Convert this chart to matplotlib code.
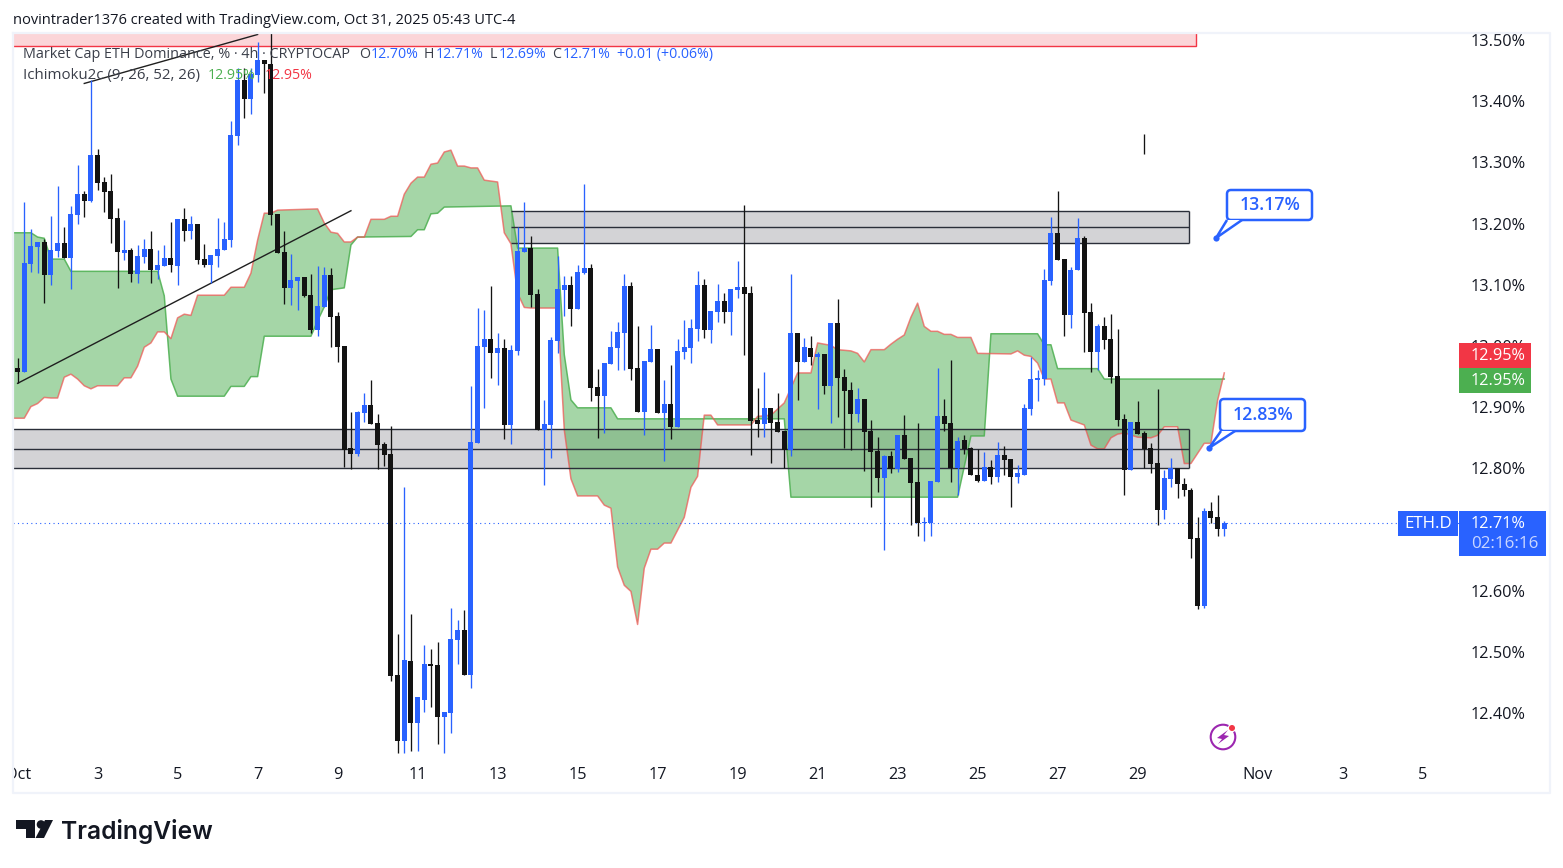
"""
ETH.D 4h candles with Ichimoku cloud, TradingView snapshot look.
"""
import matplotlib

matplotlib.use("Agg")
import matplotlib.dates as mdates
import matplotlib.pyplot as plt
from matplotlib.patches import Circle, FancyBboxPatch, Polygon, Rectangle
import numpy as np
import pandas as pd

plt.rcParams["font.family"] = ["Open Sans", "DejaVu Sans"]

W, H = 1563, 868
BLUE = "#2962ff"
BLACK = "#131313"
INK = "#131722"

# 4h bars from Oct 1 00:00, u = close above open, d = close below open
directions = (
    "duuuduuduu" "dudddduduu" "duudududdu" "uuuuduuddd" "duudduuddd"
    "duudddddud" "uudduuuduu" "ududuuuddu" "uuuduudduu" "uudduududu"
    "uuuduuduud" "ddudddudud" "ududdduddd" "ududdduuud" "dudddududd"
    "uuuuuudduu" "dduddddudd" "dduuddddud" "du"
)
highs = [
    12.980, 13.235, 13.191, 13.170, 13.175, 13.212, 13.261, 13.194, 13.229, 13.296,
    13.253, 13.435, 13.322, 13.276, 13.281, 13.225, 13.206, 13.160, 13.165, 13.175,
    13.188, 13.157, 13.165, 13.202, 13.207, 13.225, 13.212, 13.199, 13.167, 13.149,
    13.209, 13.202, 13.367, 13.454, 13.454, 13.454, 13.496, 13.467, 13.511, 13.215,
    13.188, 13.150, 13.113, 13.113, 13.117, 13.130, 13.129, 13.127, 13.055, 13.000,
    12.892, 12.893, 12.923, 12.945, 12.889, 12.843, 12.869, 12.529, 12.769, 12.562,
    12.426, 12.511, 12.505, 12.516, 12.402, 12.572, 12.552, 12.569, 12.935, 13.062,
    13.059, 13.098, 13.021, 13.011, 13.001, 13.195, 13.236, 13.180, 13.093, 12.912,
    13.014, 13.147, 13.114, 13.114, 13.132, 13.265, 13.134, 12.962, 12.972, 13.024,
    13.039, 13.117, 13.104, 13.032, 12.975, 13.034, 12.995, 12.945, 12.969, 13.011,
    13.043, 13.044, 13.122, 13.109, 13.057, 13.101, 13.086, 13.093, 13.139, 13.230,
    13.098, 12.931, 12.957, 12.899, 12.923, 12.861, 13.117, 13.021, 13.013, 13.016,
    12.990, 12.987, 13.037, 13.076, 12.962, 12.941, 12.931, 12.913, 12.879, 12.851,
    12.822, 12.828, 12.854, 12.887, 12.817, 12.874, 12.720, 12.779, 12.964, 12.913,
    12.977, 12.851, 12.854, 12.835, 12.831, 12.826, 12.814, 12.843, 12.836, 12.815,
    12.805, 12.905, 12.982, 12.961, 13.126, 13.211, 13.253, 13.142, 13.129, 13.209,
    13.180, 13.070, 13.036, 13.047, 13.052, 13.027, 12.889, 12.876, 12.910, 12.861,
    12.841, 12.930, 12.797, 12.817, 12.801, 12.785, 12.768, 12.720, 12.735, 12.745,
    12.756, 12.714,
]
body_tops = [
    12.964, 13.135, 13.163, 13.170, 13.170, 13.157, 13.168, 13.168, 13.216, 13.248,
    13.248, 13.312, 13.312, 13.268, 13.253, 13.209, 13.157, 13.157, 13.147, 13.158,
    13.158, 13.132, 13.144, 13.144, 13.207, 13.207, 13.199, 13.199, 13.142, 13.149,
    13.158, 13.175, 13.345, 13.435, 13.435, 13.444, 13.467, 13.467, 13.460, 13.215,
    13.154, 13.108, 13.113, 13.113, 13.083, 13.065, 13.116, 13.116, 13.049, 13.000,
    12.833, 12.892, 12.904, 12.904, 12.874, 12.840, 12.823, 12.462, 12.487, 12.485,
    12.426, 12.480, 12.480, 12.478, 12.402, 12.521, 12.536, 12.536, 12.843, 13.000,
    13.011, 13.011, 12.996, 12.996, 12.994, 13.155, 13.160, 13.160, 13.085, 12.873,
    13.010, 13.093, 13.100, 13.100, 13.121, 13.127, 13.127, 12.933, 12.972, 12.998,
    13.023, 13.098, 13.098, 12.964, 12.975, 12.995, 12.995, 12.905, 12.905, 12.992,
    12.998, 13.029, 13.100, 13.100, 13.057, 13.073, 13.073, 13.093, 13.096, 13.096,
    13.086, 12.879, 12.899, 12.899, 12.876, 12.861, 13.021, 13.021, 12.998, 12.996,
    12.987, 12.987, 13.037, 13.037, 12.949, 12.928, 12.913, 12.913, 12.861, 12.828,
    12.820, 12.820, 12.854, 12.854, 12.817, 12.778, 12.712, 12.779, 12.885, 12.885,
    12.874, 12.845, 12.846, 12.833, 12.790, 12.802, 12.802, 12.822, 12.822, 12.815,
    12.792, 12.899, 12.946, 12.948, 13.108, 13.185, 13.185, 13.142, 13.124, 13.176,
    13.176, 13.055, 13.032, 13.032, 13.011, 12.951, 12.880, 12.876, 12.876, 12.858,
    12.833, 12.809, 12.784, 12.801, 12.801, 12.775, 12.765, 12.686, 12.730, 12.730,
    12.720, 12.711,
]
body_bottoms = [
    12.958, 12.958, 13.134, 13.161, 13.116, 13.116, 13.155, 13.144, 13.144, 13.214,
    13.237, 13.237, 13.266, 13.252, 13.207, 13.153, 13.152, 13.117, 13.117, 13.145,
    13.124, 13.124, 13.131, 13.132, 13.131, 13.188, 13.188, 13.141, 13.132, 13.132,
    13.147, 13.157, 13.173, 13.343, 13.403, 13.403, 13.443, 13.460, 13.214, 13.152,
    13.095, 13.095, 13.106, 13.082, 13.026, 13.026, 13.063, 13.047, 12.998, 12.830,
    12.823, 12.823, 12.891, 12.873, 12.838, 12.822, 12.460, 12.354, 12.354, 12.384,
    12.384, 12.421, 12.477, 12.393, 12.393, 12.400, 12.520, 12.462, 12.462, 12.841,
    12.998, 12.988, 12.988, 12.871, 12.871, 12.992, 13.154, 13.083, 12.863, 12.863,
    12.871, 13.008, 13.092, 13.060, 13.060, 13.119, 12.931, 12.918, 12.918, 12.970,
    12.996, 13.021, 12.962, 12.892, 12.892, 12.974, 12.890, 12.890, 12.867, 12.867,
    12.990, 12.996, 13.028, 13.026, 13.026, 13.055, 13.055, 13.055, 13.092, 13.085,
    12.877, 12.873, 12.873, 12.874, 12.859, 12.830, 12.830, 12.974, 12.974, 12.982,
    12.982, 12.935, 12.935, 12.947, 12.926, 12.889, 12.889, 12.859, 12.827, 12.784,
    12.784, 12.799, 12.799, 12.815, 12.776, 12.711, 12.711, 12.711, 12.778, 12.872,
    12.800, 12.800, 12.832, 12.789, 12.779, 12.779, 12.786, 12.786, 12.814, 12.786,
    12.786, 12.790, 12.897, 12.945, 12.946, 13.106, 13.141, 13.051, 13.051, 13.124,
    13.054, 12.990, 12.990, 13.010, 12.949, 12.879, 12.797, 12.797, 12.856, 12.832,
    12.807, 12.732, 12.732, 12.783, 12.775, 12.765, 12.684, 12.575, 12.575, 12.719,
    12.701, 12.701,
]
lows = [
    12.940, 12.958, 13.121, 13.119, 13.070, 13.100, 13.145, 13.144, 13.093, 13.199,
    13.211, 13.236, 13.255, 13.219, 13.168, 13.095, 13.141, 13.104, 13.103, 13.135,
    13.103, 13.109, 13.131, 13.121, 13.100, 13.171, 13.175, 13.134, 13.129, 13.103,
    13.129, 13.157, 13.161, 13.328, 13.372, 13.379, 13.431, 13.413, 13.198, 13.152,
    13.069, 13.067, 13.059, 13.080, 13.021, 13.016, 13.063, 12.998, 12.974, 12.802,
    12.799, 12.820, 12.876, 12.873, 12.799, 12.804, 12.452, 12.335, 12.335, 12.338,
    12.338, 12.402, 12.410, 12.349, 12.335, 12.367, 12.480, 12.462, 12.441, 12.841,
    12.899, 12.947, 12.936, 12.848, 12.840, 12.985, 13.154, 13.063, 12.863, 12.773,
    12.817, 12.988, 13.049, 13.032, 13.060, 13.117, 12.910, 12.850, 12.858, 12.970,
    12.961, 12.961, 12.945, 12.892, 12.854, 12.974, 12.890, 12.812, 12.848, 12.867,
    12.979, 12.972, 13.008, 13.013, 13.005, 13.040, 13.037, 13.018, 13.078, 12.986,
    12.822, 12.851, 12.851, 12.809, 12.859, 12.800, 12.820, 12.912, 12.974, 12.969,
    12.897, 12.921, 12.874, 12.884, 12.833, 12.830, 12.876, 12.795, 12.737, 12.761,
    12.667, 12.792, 12.794, 12.815, 12.707, 12.689, 12.681, 12.689, 12.778, 12.861,
    12.778, 12.756, 12.823, 12.789, 12.777, 12.779, 12.774, 12.778, 12.790, 12.737,
    12.776, 12.790, 12.887, 12.910, 12.936, 13.100, 13.141, 13.016, 13.029, 13.124,
    12.990, 12.957, 12.961, 12.995, 12.939, 12.869, 12.756, 12.797, 12.856, 12.800,
    12.792, 12.707, 12.717, 12.770, 12.752, 12.755, 12.653, 12.570, 12.572, 12.711,
    12.689, 12.689,
]
# loose wick floating above the Oct 29 bars
stray_bar, stray_high, stray_low = 169, 13.346, 13.313

# Ichimoku spans, bar number and value at each bend of the line
green_bars = [
    -1, 2, 3, 4, 5, 7, 8, 21, 22, 23, 24, 31, 32, 34, 35, 36, 37, 44, 45, 46, 47, 49,
    50, 51, 59, 60, 61, 62, 63, 64, 74, 75, 81, 82, 83, 84, 89, 90, 115, 116, 141,
    143, 145, 146, 153, 154, 155, 156, 162, 163, 181,
]
green_vals = [
    13.185, 13.185, 13.178, 13.176, 13.142, 13.142, 13.122, 13.122, 13.082, 12.946,
    12.918, 12.918, 12.934, 12.934, 12.950, 12.950, 13.016, 13.016, 13.041, 13.064,
    13.092, 13.095, 13.165, 13.178, 13.179, 13.190, 13.190, 13.216, 13.217, 13.227,
    13.229, 13.160, 13.160, 12.986, 12.912, 12.899, 12.899, 12.881, 12.881, 12.753,
    12.753, 12.853, 12.853, 13.020, 13.020, 13.002, 13.002, 12.963, 12.963, 12.946,
    12.946,
]
red_bars = [
    -1, 1, 2, 3, 4, 5, 6, 7, 8, 9, 10, 11, 12, 15, 16, 17, 18, 19, 20, 21, 22, 23, 24,
    25, 26, 27, 31, 32, 34, 35, 36, 37, 38, 39, 45, 46, 47, 48, 49, 50, 51, 52, 53, 55,
    56, 57, 58, 59, 60, 61, 62, 63, 64, 65, 66, 67, 68, 69, 70, 72, 73, 74, 75, 76, 77,
    81, 82, 83, 84, 87, 88, 89, 90, 91, 92, 93, 94, 95, 96, 97, 98, 100, 101, 102, 103,
    104, 105, 110, 111, 113, 115, 117, 119, 120, 121, 122, 123, 125, 126, 127, 128,
    130, 131, 132, 133, 134, 135, 136, 137, 138, 139, 140, 141, 143, 144, 149, 150,
    151, 152, 153, 154, 155, 156, 157, 158, 160, 161, 162, 163, 164, 165, 166, 168,
    170, 171, 172, 174, 175, 176, 178, 179, 180, 181,
]
red_vals = [
    12.882, 12.882, 12.901, 12.906, 12.916, 12.915, 12.915, 12.949, 12.954, 12.946,
    12.935, 12.930, 12.935, 12.935, 12.948, 12.948, 12.967, 12.998, 13.005, 13.023,
    13.023, 13.012, 13.046, 13.052, 13.050, 13.083, 13.083, 13.096, 13.096, 13.119,
    13.173, 13.217, 13.217, 13.222, 13.224, 13.201, 13.186, 13.184, 13.170, 13.170,
    13.178, 13.178, 13.207, 13.207, 13.212, 13.212, 13.248, 13.266, 13.276, 13.276,
    13.297, 13.299, 13.317, 13.320, 13.294, 13.294, 13.291, 13.291, 13.271, 13.268,
    13.185, 13.167, 13.086, 13.063, 13.062, 13.062, 12.863, 12.783, 12.755, 12.755,
    12.740, 12.735, 12.639, 12.609, 12.599, 12.545, 12.637, 12.668, 12.668, 12.678,
    12.678, 12.720, 12.769, 12.787, 12.887, 12.887, 12.871, 12.871, 12.885, 12.887,
    12.907, 12.956, 12.956, 13.005, 13.003, 13.001, 12.994, 12.992, 12.988, 12.974,
    12.994, 12.994, 13.003, 13.011, 13.018, 13.047, 13.070, 13.032, 13.024, 13.024,
    13.019, 13.019, 13.014, 13.014, 12.988, 12.987, 12.992, 12.985, 12.983, 12.972,
    12.946, 12.946, 12.907, 12.907, 12.879, 12.871, 12.838, 12.832, 12.832, 12.850,
    12.856, 12.858, 12.851, 12.850, 12.854, 12.868, 12.868, 12.808, 12.808, 12.841,
    12.841, 12.911, 12.956,
]

# drawn zones: low, mid, high
upper_zone = [13.168, 13.195, 13.221]
lower_zone = [12.801, 12.832, 12.864]
zone_end_bar = 175.75
upper_zone_start = 74
red_zone_low, red_zone_high, red_zone_end = 13.490, 13.60, 176.8
trend_main = ([0, 50], [12.939, 13.221])
trend_top = ([10, 36], [13.429, 13.509])
last_price = 12.71
callout_bars = [179.75, 178.75]
callout_vals = [13.176, 12.833]

y_ticks = [12.4, 12.5, 12.6, 12.8, 12.9, 13.0, 13.1, 13.2, 13.3, 13.4, 13.5]
x_tick_times = [
    "2025-10-01", "2025-10-03", "2025-10-05", "2025-10-07", "2025-10-09", "2025-10-11",
    "2025-10-13", "2025-10-15", "2025-10-17", "2025-10-19", "2025-10-21", "2025-10-23",
    "2025-10-25", "2025-10-27", "2025-10-29", "2025-11-01", "2025-11-03 03:00",
    "2025-11-05 03:00",
]
x_tick_labels = ["Oct", "3", "5", "7", "9", "11", "13", "15", "17", "19", "21", "23",
                 "25", "27", "29", "Nov", "3", "5"]


def main() -> None:
    fig = plt.figure(figsize=(W / 100, H / 100), dpi=100, facecolor="white")
    left, right, top, bottom = 13, 1459, 33, 757
    ax = fig.add_axes([left / W, 1 - bottom / H, (right - left) / W, (bottom - top) / H])

    times = pd.date_range("2025-10-01", periods=len(highs), freq="4h")
    bar_x = mdates.date2num(times)
    x0 = bar_x[0]
    day_px = 40.0

    up = np.array([d == "u" for d in directions])
    colors = np.where(up, BLUE, BLACK)

    def at_bar(bars):
        return x0 + np.asarray(bars, dtype=float) / 6

    # zones
    for lo, mid, hi, start in (
        (*upper_zone, at_bar(upper_zone_start)),
        (*lower_zone, x0 - 1),
    ):
        end = at_bar(zone_end_bar)
        ax.add_patch(Rectangle((start, lo), end - start, hi - lo, fc="#d3d3d6", ec="none", zorder=1))
        ax.hlines([lo, mid, hi], start, end, colors="#2a2e39", lw=1.0, zorder=2.6)
        ax.vlines(end, lo, hi, colors="#2a2e39", lw=1.0, zorder=2.6)

    end = at_bar(red_zone_end)
    ax.add_patch(Rectangle((x0 - 1, red_zone_low), end - x0 + 1, red_zone_high - red_zone_low,
                           fc="#fbd5d8", ec="#f23645", lw=1.0, zorder=1))

    # cloud
    gx, rx = at_bar(green_bars), at_bar(red_bars)
    ax.fill(np.concatenate([gx, rx[::-1]]), np.concatenate([green_vals, red_vals[::-1]]),
            fc="#4caf50", alpha=0.5, ec="none", zorder=2)
    ax.plot(gx, green_vals, color="#4caf50", lw=1.1, alpha=0.85, zorder=2.5)
    ax.plot(rx, red_vals, color="#ef5350", lw=1.1, alpha=0.7, zorder=2.5)

    # trend lines and price line
    for bars, vals in (trend_main, trend_top):
        ax.plot(at_bar(bars), vals, color="#1f1f1f", lw=1.0, zorder=3)
    ax.axhline(last_price, color=BLUE, lw=0.8, ls=(0, (1, 3)), zorder=3)

    # candles
    ax.vlines(bar_x, lows, highs, colors=colors, lw=0.95, zorder=4)
    ax.bar(bar_x, np.array(body_tops) - np.array(body_bottoms), bottom=body_bottoms,
           width=5.0 / day_px, color=colors, lw=0, zorder=5)
    ax.vlines(at_bar(stray_bar), stray_low, stray_high, colors=BLACK, lw=0.95, zorder=4)

    ax.set_xlim(x0 + (left - 17.6) / day_px, x0 + (right - 17.6) / day_px)
    ax.set_ylim(13.5 - (bottom - 40) / 612, 13.5 - (top - 40) / 612)
    ax.yaxis.tick_right()
    ax.set_yticks(y_ticks, [f"{v:.2f}%" for v in y_ticks])
    ax.set_xticks(mdates.date2num(pd.to_datetime(x_tick_times, format="mixed")), x_tick_labels)
    ax.tick_params(axis="y", length=0, pad=8, labelsize=11.7, labelcolor=INK)
    ax.tick_params(axis="x", length=0, pad=7, labelsize=11.7, labelcolor=INK)
    for spine in ax.spines.values():
        spine.set_visible(False)

    # overlay in pixel coordinates for all the screen furniture
    ov = fig.add_axes([0, 0, 1, 1], facecolor="none", zorder=5)
    ov.set_xlim(0, W)
    ov.set_ylim(H, 0)
    ov.axis("off")

    ov.add_patch(Rectangle((0, 760), 12, 30, fc="white", ec="none"))
    frame = "#f0f3fa"
    ov.plot([12.5, 12.5, 1550, 1550, 12.5], [33, 793, 793, 33, 33], color=frame, lw=1.6, zorder=1)

    ov.text(13, 21, "novintrader1376 created with TradingView.com, Oct 31, 2025 05:43 UTC-4",
            fontsize=10.5, color=INK, va="center")

    grey = "#3a3e49"
    ov.text(23, 54.5, "Market Cap ETH Dominance, % · 4h · CRYPTOCAP", fontsize=10.4, color=grey, va="center")
    for x, txt, col in (
        (359, "O", grey), (371, "12.70%", BLUE), (424, "H", grey),
        (436, "12.71%", BLUE), (490, "L", grey), (499, "12.69%", BLUE),
        (552, "C", grey), (563, "12.71%", BLUE), (617, "+0.01 (+0.06%)", BLUE),
    ):
        ov.text(x, 54.5, txt, fontsize=10.2, color=col, va="center")
    ov.text(23, 75.5, "Ichimoku2c (9, 26, 52, 26)", fontsize=10.8, color=grey, va="center")
    ov.text(208, 75.5, "12.95%", fontsize=10.2, color="#4caf50", va="center")
    ov.text(265, 75.5, "12.95%", fontsize=10.2, color="#f23645", va="center")

    # callouts
    for bx0, bx1, by0, by1, tail, txt in (
        (1227, 1312, 190, 220, [(1227, 220), (1216, 238), (1242, 220)], "13.17%"),
        (1220, 1305, 399, 431, [(1221, 431), (1209, 448), (1235, 431)], "12.83%"),
    ):
        ov.add_patch(FancyBboxPatch((bx0, by0), bx1 - bx0, by1 - by0,
                                    boxstyle="round,pad=0,rounding_size=4",
                                    fc="white", ec=BLUE, lw=1.8, mutation_aspect=1))
        ov.add_patch(Polygon(tail, closed=False, fc="white", ec=BLUE, lw=1.8))
        ov.text((bx0 + bx1) / 2 + 1, (by0 + by1) / 2, txt, fontsize=12.8, color=BLUE,
                ha="center", va="center", fontweight=600)

    # anchor dots of the callouts go on the price axes' scale
    ax.scatter(at_bar(callout_bars), callout_vals, s=20, color=BLUE, lw=0, zorder=7)

    # price badges
    ov.add_patch(Rectangle((1459, 343), 72, 25, fc="#f23645", ec="none"))
    ov.add_patch(Rectangle((1459, 368), 72, 25, fc="#4caf50", ec="none"))
    ov.add_patch(Rectangle((1459, 511), 87, 45, fc=BLUE, ec="none"))
    ov.add_patch(Rectangle((1398, 511), 60, 25, fc=BLUE, ec="none"))
    for y in (356, 381):
        ov.text(1498.5, y, "12.95%", fontsize=11.7, color="white", ha="center", va="center")
    ov.text(1498.5, 524, "12.71%", fontsize=11.7, color="white", ha="center", va="center")
    ov.text(1505, 544, "02:16:16", fontsize=12.2, color="#c9d6ff", ha="center", va="center")
    ov.text(1428, 524, "ETH.D", fontsize=12.2, color="white", ha="center", va="center")

    # bolt icon
    purple = "#9c27b0"
    ov.add_patch(Circle((1223, 737), 12.3, fc="none", ec=purple, lw=1.5))
    ov.add_patch(Polygon([(1228, 730), (1217, 738), (1222, 739), (1218, 744), (1229, 736),
                          (1224, 735)], fc=purple, ec="none"))
    ov.add_patch(Circle((1232, 728), 4.2, fc="white", ec="none"))
    ov.add_patch(Circle((1232, 728), 3.0, fc="#f23645", ec="none"))

    # logo
    ov.add_patch(Polygon([(16, 820), (35, 820), (35, 838), (26, 838), (26, 829), (16, 829)],
                         fc=INK, ec="none"))
    ov.add_patch(Circle((41, 824.5), 4.3, fc=INK, ec="none"))
    ov.add_patch(Polygon([(45, 820), (53, 820), (44, 838), (35.5, 838)], fc=INK, ec="none"))
    ov.text(61, 831, "TradingView", fontsize=17.7, color=INK, va="center",
            family=["Inter", "DejaVu Sans"], fontweight="semibold")

    fig.savefig("out.png", dpi=100)


if __name__ == "__main__":
    main()
